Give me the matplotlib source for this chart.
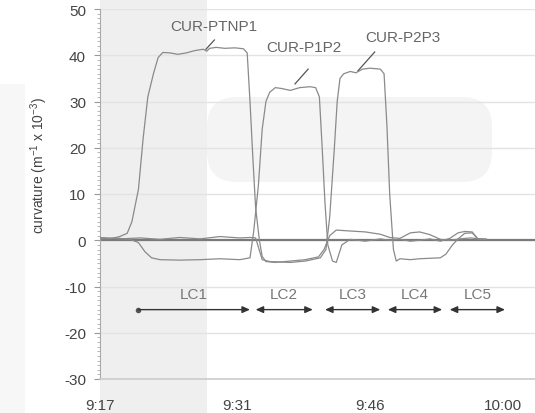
import matplotlib
matplotlib.use("Agg")
import matplotlib.pyplot as plt
from matplotlib.patches import Rectangle, FancyBboxPatch
from matplotlib.ticker import MultipleLocator

plt.rcParams['font.family'] = ['Liberation Sans', 'DejaVu Sans']
plt.rcParams['mathtext.fontset'] = 'custom'
plt.rcParams['mathtext.rm'] = 'Liberation Sans'
plt.rcParams['mathtext.it'] = 'Liberation Sans:italic'
plt.rcParams['axes.unicode_minus'] = False

# ---- data (minutes after 9:17, curvature m^-1 x 10^-3) ----
ptnp1_t = [0.0, 1.1, 2.1, 2.9, 3.4, 4.1, 4.6, 5.1, 5.7, 6.2, 6.7, 7.5, 8.3, 9.2, 10.1, 11.0, 11.4, 11.7,
           12.4, 13.3, 14.4, 15.3, 15.7, 16.0, 16.3, 16.6, 17.0, 17.3, 17.7, 18.7, 20.3, 21.9, 23.3, 23.9,
           24.5, 25.2, 26.7, 28.3, 29.9, 30.9, 32.0, 33.1, 34.1, 35.2, 36.3, 37.3, 38.4, 39.5, 40.5, 41.2]
ptnp1_v = [0.5, 0.3, 0.8, 1.5, 4, 11, 22, 31, 36, 39.5, 40.6, 40.5, 40.2, 40.5, 41, 41.3, 40.9, 41.5,
           41.7, 41.5, 41.6, 41.4, 40.5, 30, 18, 7, 0, -3.5, -4.6, -4.8, -4.5, -4.2, -3.6, -2,
           1, 2.2, 2, 1.8, 1.3, 0.6, 0.4, 1.6, 1.8, 1.2, 0.2, 0, 0.3, 0.5, 0.3, 0.2]

p1p2_t = [0.0, 1.6, 3.2, 4.1, 4.8, 5.5, 6.4, 8.5, 10.7, 12.8, 14.9, 16.0, 16.4, 16.9, 17.3, 17.7, 18.1,
          18.7, 19.4, 20.3, 21.3, 22.4, 23.0, 23.4, 23.7, 24.0, 24.3, 24.8, 25.2, 25.8, 26.7, 28.3, 29.9,
          30.9, 32.0, 33.1, 34.1, 35.2, 36.3, 37.3, 38.2, 38.9, 39.7, 40.3, 41.2]
p1p2_v = [0.3, 0.5, 0.2, -0.5, -2.5, -3.8, -4.2, -4.3, -4.2, -4.0, -4.2, -3.8, 2, 12, 24, 30, 32,
          33, 32.8, 32.4, 33, 33.2, 33, 31, 20, 8, -1, -4.5, -4.8, -1, 0.2, -0.2, 0.3,
          0, 0.2, -0.2, 0, 0.3, -0.2, 0.4, 1.6, 1.9, 1.8, 0.3, 0.2]

p2p3_t = [0.0, 2.1, 4.3, 6.4, 8.5, 10.7, 12.8, 14.9, 16.0, 16.6, 17.3, 18.1, 20.3, 21.9, 23.5, 24.1, 24.5,
          25.0, 25.3, 25.6, 26.0, 26.7, 27.3, 28.0, 28.8, 29.9, 30.3, 30.6, 30.9, 31.3, 31.6, 32.0, 33.1,
          34.1, 35.2, 36.3, 36.9, 37.6, 38.2, 38.9, 39.7, 40.3, 41.2]
p2p3_v = [0.6, 0.3, 0.5, 0.2, 0.6, 0.3, 0.8, 0.5, 0.6, 0.5, -4.2, -4.6, -4.8, -4.5, -3.8, -2, 5,
          20, 30, 35, 36, 36.5, 36.2, 37, 37.2, 37, 36, 25, 10, -2, -4.5, -4, -4.2,
          -4, -3.9, -3.8, -3, -1, 0.3, 1.5, 1.6, 0.3, 0.2]

series_names = ['CUR-PTNP1', 'CUR-P1P2', 'CUR-P2P3']

# lane-change segments
lc_names = ['LC1', 'LC2', 'LC3', 'LC4', 'LC5']
lc_start = [4.1, 16.6, 24.0, 30.7, 37.3]
lc_end = [16.0, 22.7, 29.9, 36.5, 43.2]
lc_level = -15

tick_pos = [0, 14.6, 28.8, 43.0]
tick_labels = ['9:17', '9:31', '9:46', '10:00']

# ---- figure ----
W, H = 535, 414
fig = plt.figure(figsize=(W / 100, H / 100), dpi=100)

# faint background shapes (watermark-like) on a pixel-space background axes
bg = fig.add_axes([0, 0, 1, 1], zorder=-5)
bg.set_xlim(0, W)
bg.set_ylim(H, 0)
bg.axis('off')
bg.add_patch(Rectangle((100, 0), 107, H, facecolor='#efefef', edgecolor='none'))
bg.add_patch(Rectangle((0, 85), 25, H - 85, facecolor='#f7f7f7', edgecolor='none'))
bg.add_patch(FancyBboxPatch((207, 98), 285, 85, boxstyle="round,pad=0,rounding_size=30",
                            facecolor='#f4f4f4', edgecolor='none'))

ax = fig.add_axes([100 / W, 34 / H, 435 / W, 370 / H], zorder=1)
ax.set_facecolor('none')

ax.set_xlim(0, 46.4)
ax.set_ylim(-30, 50)

ax.yaxis.set_major_locator(MultipleLocator(10))
ax.yaxis.set_minor_locator(MultipleLocator(1))
ax.grid(axis='y', color='#e3e3e3', linewidth=1.0)
ax.set_axisbelow(True)

for s in ['top', 'right']:
    ax.spines[s].set_visible(False)
ax.spines['left'].set_color('#aaaaaa')
ax.spines['bottom'].set_color('#cccccc')
ax.spines['bottom'].set_linewidth(1.2)

ax.set_xticks(tick_pos)
ax.set_xticklabels(tick_labels)
ax.tick_params(axis='x', length=0, pad=14, labelsize=11, labelcolor='#444444')
ax.tick_params(axis='y', which='major', length=4, color='#999999', labelsize=11,
               labelcolor='#444444', pad=6)
ax.tick_params(axis='y', which='minor', length=2, color='#aaaaaa')

ax.set_ylabel(r'curvature (m$^{-1}$ x 10$^{-3}$)', fontsize=10, color='#444444')
ax.yaxis.set_label_coords(-0.115, 0.58)

ax.axhline(0, color='#7a7a7a', linewidth=1.6, zorder=2)

line_color = '#8a8a8a'
for t, v in [(ptnp1_t, ptnp1_v), (p1p2_t, p1p2_v), (p2p3_t, p2p3_v)]:
    ax.plot(t, v, color=line_color, linewidth=0.9, zorder=3)

# series labels with leader lines
label_pos = [(12.1, 46.3), (21.7, 41.8), (32.3, 43.9)]
leader = [((11.3, 41.3), (12.2, 43.3)), ((20.8, 33.8), (22.2, 37.0)), ((27.5, 36.6), (29.3, 40.7))]
for name, (tx, ty), ((x0, y0), (x1, y1)) in zip(series_names, label_pos, leader):
    ax.text(tx, ty, name, ha='center', va='center', fontsize=11, color='#666666')
    ax.plot([x0, x1], [y0, y1], color='#555555', linewidth=0.9)

# lane-change arrows
for i, (name, a, b) in enumerate(zip(lc_names, lc_start, lc_end)):
    style = '-|>' if i == 0 else '<|-|>'
    ax.annotate('', xy=(b, lc_level), xytext=(a, lc_level),
                arrowprops=dict(arrowstyle=style + ',head_length=0.45,head_width=0.2',
                                color='#333333', linewidth=1.0, shrinkA=0, shrinkB=0))
    if i == 0:
        ax.plot([a], [lc_level], marker='o', markersize=3, color='#555555')
    ax.text((a + b) / 2, lc_level + 1.8, name, ha='center', va='bottom',
            fontsize=11, color='#777777')

fig.savefig('out.png', dpi=100)
